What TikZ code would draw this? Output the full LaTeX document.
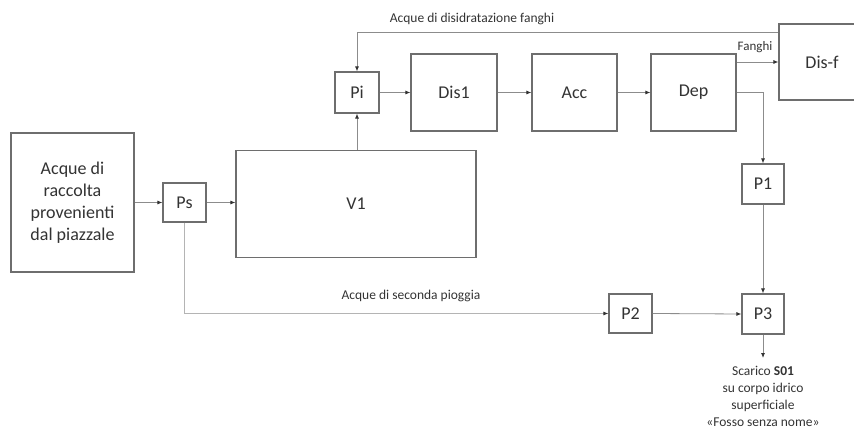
\documentclass[tikz,border=0pt]{standalone}
\usepackage{fontspec}
\setmainfont{Carlito}
\usetikzlibrary{arrows.meta,calc}
\definecolor{boxc}{HTML}{6E6E6E}
\definecolor{linec}{HTML}{8C8C8C}
\definecolor{lightc}{HTML}{B4B4B4}
\definecolor{txtc}{HTML}{333333}
\tikzset{
  blk/.style={draw=boxc, line width=1.2pt, fill=white, text=txtc, inner sep=0pt,
    font=\fontsize{18}{22}\selectfont, align=center},
  conn/.style={draw=linec, line width=0.8pt, -{Latex[length=5pt,width=4pt,fill=black!80,color=black!80]}},
  lbl/.style={text=txtc, font=\fontsize{13.5}{17}\selectfont, align=center, inner sep=0pt}
}
\begin{document}
\begin{tikzpicture}[x=1pt,y=-1pt]
\useasboundingbox (0,0) rectangle (854,430);
\begin{scope}
\clip (0,0) rectangle (854,430);
\node[blk, minimum width=86pt, minimum height=76pt] (Disf) at (822,62) {Dis-f};
\end{scope}
\node[blk, minimum width=123pt, minimum height=139pt] (main) at (72.5,202.5) {Acque di\\raccolta\\provenienti\\dal piazzale};
\node[blk, minimum width=43pt, minimum height=39pt] (Ps) at (184.5,202.5) {Ps};
\node[blk, minimum width=240pt, minimum height=107pt] (V1) at (356,204) {V1};
\node[blk, minimum width=44pt, minimum height=41pt] (Pi) at (357,92.5) {Pi};
\node[blk, minimum width=86pt, minimum height=77pt] (Dis1) at (454,92.5) {Dis1};
\node[blk, minimum width=85pt, minimum height=77pt] (Acc) at (574.5,92.5) {Acc};
\node[blk, minimum width=85pt, minimum height=77pt] (Dep) at (693.5,92.5) {Dep};
\node[blk, minimum width=42pt, minimum height=40pt] (P1) at (763,184) {P1};
\node[blk, minimum width=43pt, minimum height=39pt] (P2) at (630.5,313.5) {P2};
\node[blk, minimum width=42pt, minimum height=40pt] (P3) at (763,314) {P3};
\node[lbl, anchor=north] (out) at (763,366) {Scarico \textbf{S01}\\su corpo idrico\\superficiale\\«Fosso senza nome»};
\node[lbl] (l1) at (472,19) {Acque di disidratazione fanghi};
\node[lbl, font=\fontsize{13}{16}\selectfont] (l2) at (755,47) {Fanghi};
\node[lbl] (l3) at (411,296) {Acque di seconda pioggia};
\coordinate (fb) at ($(Disf.north west)+(0,9)$);
\coordinate (fg) at ($(Disf.west)$);
% connectors
\draw[conn] (main.east) -- (Ps.west);
\draw[conn] (Ps.east) -- (V1.west |- Ps.east);
\draw[conn] (Pi.south |- V1.north) -- (Pi.south);
\draw[conn] (Pi.east) -- (Dis1.west);
\draw[conn] (Dis1.east) -- (Acc.west);
\draw[conn] (Acc.east) -- (Dep.west);
\draw[conn] (Dep.east |- fg) -- (fg);
\draw[conn] (Dep.east) -| (P1.north);
\draw[conn] (P1.south) -- (P3.north);
\draw[conn] (fb) -| (Pi.north);
\draw[conn, draw=lightc] (Ps.south) |- (P2.west);
\draw[conn] (P2.east) -- (P3.west);
\draw[conn] (P3.south) -- ($(out.north)+(0,-8)$);
\end{tikzpicture}
\end{document}
